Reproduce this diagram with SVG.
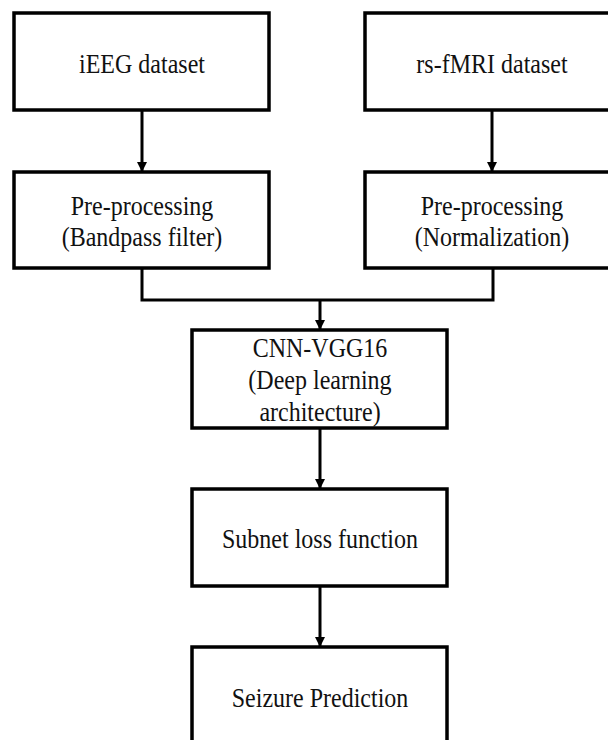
<svg xmlns="http://www.w3.org/2000/svg" width="608" height="740" viewBox="0 0 608 740">
<defs>
<marker id="ah" markerWidth="10" markerHeight="10" refX="9" refY="5" orient="auto" markerUnits="userSpaceOnUse">
<path d="M0,0 L10,5 L0,10 Z" fill="#000"/>
</marker>
<style>
.box{fill:#fff;stroke:#000;stroke-width:3.5}
.t{font-family:"Liberation Serif","Times New Roman",serif;font-size:24px;fill:#111;text-anchor:middle}
.c{fill:none;stroke:#000;stroke-width:3}
</style>
</defs>
<rect width="608" height="740" fill="#fff"/>
<g id="connectors">
<path class="c" d="M142,110 V171" marker-end="url(#ah)"/>
<path class="c" d="M492,110 V171" marker-end="url(#ah)"/>
<path class="c" d="M142,268 V300 H493 V268"/>
<path class="c" d="M320,300 V329" marker-end="url(#ah)"/>
<path class="c" d="M320,428 V488" marker-end="url(#ah)"/>
<path class="c" d="M320,586 V646" marker-end="url(#ah)"/>
</g>
<g id="ieeg">
<rect class="box" x="14" y="13" width="255" height="97"/>
<text class="t" transform="translate(142,73) scale(1,1.15)">iEEG dataset</text>
</g>
<g id="fmri">
<rect class="box" x="365" y="13" width="260" height="97"/>
<text class="t" transform="translate(492,73) scale(1,1.15)">rs-fMRI dataset</text>
</g>
<g id="pre1">
<rect class="box" x="14" y="172" width="255" height="96"/>
<text class="t" transform="translate(142,215) scale(1,1.15)">Pre-processing</text>
<text class="t" transform="translate(142,246) scale(1,1.15)">(Bandpass filter)</text>
</g>
<g id="pre2">
<rect class="box" x="365" y="172" width="260" height="96"/>
<text class="t" transform="translate(492,215) scale(1,1.15)">Pre-processing</text>
<text class="t" transform="translate(492,246) scale(1,1.15)">(Normalization)</text>
</g>
<g id="cnn">
<rect class="box" x="192" y="330" width="255" height="98"/>
<text class="t" transform="translate(320,357) scale(1,1.15)">CNN-VGG16</text>
<text class="t" transform="translate(320,389) scale(1,1.15)">(Deep learning</text>
<text class="t" transform="translate(320,421) scale(1,1.15)">architecture)</text>
</g>
<g id="subnet">
<rect class="box" x="192" y="489" width="255" height="97"/>
<text class="t" transform="translate(320,548) scale(1,1.15)">Subnet loss function</text>
</g>
<g id="seizure">
<rect class="box" x="192" y="647" width="255" height="110"/>
<text class="t" transform="translate(320,707) scale(1,1.15)">Seizure Prediction</text>
</g>
</svg>
